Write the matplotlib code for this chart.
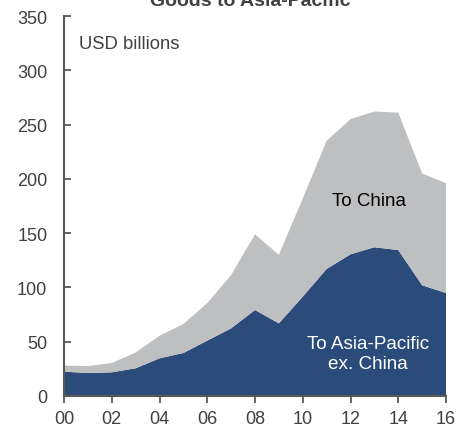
import numpy as np
import matplotlib.pyplot as plt

plt.rcParams['font.family'] = ['Liberation Sans', 'DejaVu Sans']

# 数据(十亿美元)
years = list(range(2000, 2017))
asia_ex_china = [22.4, 21.2, 21.8, 25.5, 34.7, 39.6, 51, 62.3, 79.2, 66.9,
                 91.5, 117, 130.5, 137, 134.4, 102, 94.8]
total = [28, 27.5, 30.4, 40, 55.5, 66.3, 85.6, 111.4, 149, 130,
         182, 235, 255, 262, 261, 205, 196]
to_china = [t - a for t, a in zip(total, asia_ex_china)]
xtick_labels = ['00', '02', '04', '06', '08', '10', '12', '14', '16']

blue = '#2B4C7A'
grey = '#BEBFC1'
axis_col = '#595959'

fig = plt.figure(figsize=(4.7, 4.27), dpi=100)
ax = fig.add_axes([64/470, 1 - 397/427, (446-64)/470, (397-17)/427])

ax.stackplot(years, asia_ex_china, to_china, colors=[blue, grey], linewidth=0)

ax.set_xlim(2000, 2016)
ax.set_ylim(0, 350)
ax.set_xticks(years[::2])
ax.set_xticklabels(xtick_labels)
ax.set_yticks(range(0, 351, 50))

for s in ['top', 'right']:
    ax.spines[s].set_visible(False)
for s in ['left', 'bottom']:
    ax.spines[s].set_color(axis_col)
    ax.spines[s].set_linewidth(1.5)

ax.tick_params(axis='y', direction='in', length=5, width=1.3, colors=axis_col,
               labelsize=13, pad=12, labelcolor='#404040')
ax.tick_params(axis='x', direction='out', length=5, width=1.3, colors=axis_col,
               labelsize=13, pad=5, labelcolor='#404040')

ax.text(2000.62, 325, 'USD billions', fontsize=13.3, color='#404040', va='center')
ax.text(2012.78, 180, 'To China', fontsize=13.5, color='black', ha='center', va='center')
ax.text(2012.72, 39, 'To Asia-Pacific\nex. China', fontsize=13.6, color='white',
        ha='center', va='center', linespacing=1.2)

fig.text(250/470, 1 - 6/427, 'Goods to Asia-Pacific', fontsize=14, fontweight='bold',
         color='#404040', ha='center', va='baseline')

fig.savefig('out.png', dpi=100)
